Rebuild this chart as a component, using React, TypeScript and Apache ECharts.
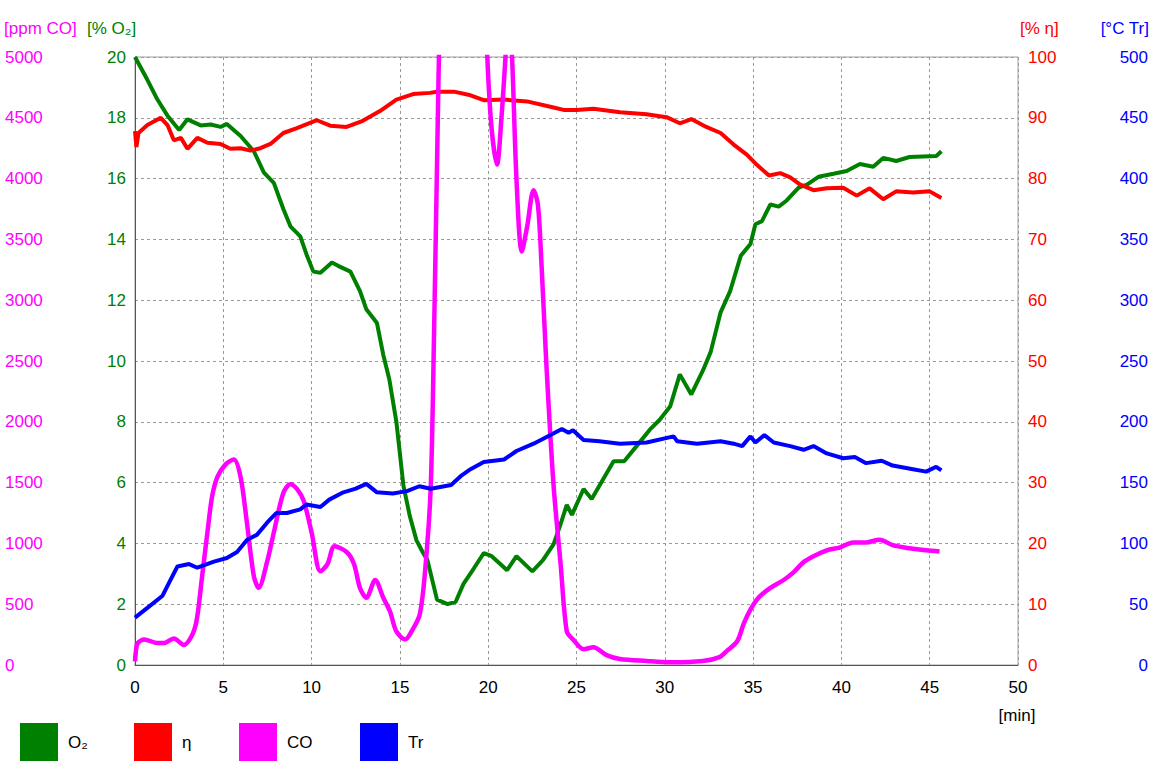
import React, { useEffect, useRef } from "react";
import * as echarts from "echarts";

// time [min], value pairs
const o2Data: number[][] = [
  [0, 20], [0.7, 19.25], [1.27, 18.6], [1.84, 18.07], [2.5, 17.6], [2.97, 17.95], [3.72, 17.75],
  [4.28, 17.78], [4.85, 17.7], [5.2, 17.8], [5.98, 17.4], [6.73, 16.9], [7.3, 16.2], [7.86, 15.86],
  [8.4, 15.0], [8.8, 14.43], [9.36, 14.1], [9.74, 13.46], [10.1, 12.94], [10.5, 12.9], [11.15, 13.24],
  [11.5, 13.13], [12.2, 12.94], [12.74, 12.3], [13.1, 11.7], [13.7, 11.25], [14.06, 10.2], [14.4, 9.4],
  [14.8, 8.0], [15.2, 5.9], [15.56, 4.9], [15.94, 4.1], [16.3, 3.7], [16.56, 3.45], [17.1, 2.15],
  [17.7, 2.0], [18.16, 2.08], [18.6, 2.67], [19.2, 3.19], [19.75, 3.68], [20.2, 3.58], [21.07, 3.12],
  [21.6, 3.58], [22.5, 3.08], [23.1, 3.45], [23.7, 3.97], [24.08, 4.6], [24.45, 5.27], [24.74, 4.94],
  [25.4, 5.79], [25.86, 5.46], [26.5, 6.1], [27.1, 6.7], [27.7, 6.7], [28.4, 7.2], [29.15, 7.74],
  [29.7, 8.06], [30.3, 8.5], [30.85, 9.56], [31.5, 8.9], [32.16, 9.69], [32.6, 10.3], [33.16, 11.6],
  [33.7, 12.3], [34.3, 13.46], [34.85, 13.85], [35.13, 14.5], [35.5, 14.6], [35.98, 15.15],
  [36.45, 15.08], [36.9, 15.28], [37.58, 15.7], [38.05, 15.8], [38.7, 16.06], [39.55, 16.16],
  [40.3, 16.25], [41.05, 16.48], [41.8, 16.39], [42.37, 16.68], [43.1, 16.58], [43.86, 16.71],
  [45.37, 16.74], [45.66, 16.9],
];

const etaData: number[][] = [
  [0, 87.8], [0.08, 85.2], [0.2, 87.5], [0.7, 88.8], [1.46, 90.0], [1.84, 88.8], [2.2, 86.3],
  [2.6, 86.7], [2.97, 84.9], [3.53, 86.7], [4.1, 85.9], [4.85, 85.7], [5.4, 84.9], [5.98, 85.0],
  [6.54, 84.6], [7.1, 85.0], [7.67, 85.7], [8.4, 87.5], [9.17, 88.3], [10.3, 89.6], [11.05, 88.7],
  [11.98, 88.5], [12.9, 89.5], [13.87, 91.1], [14.8, 93.0], [15.75, 93.9], [16.7, 94.1], [17.1, 94.3],
  [18.06, 94.3], [19.0, 93.7], [19.75, 92.9], [20.88, 93.0], [22.2, 92.7], [23.7, 91.7], [24.27, 91.3],
  [25.0, 91.3], [25.96, 91.5], [27.46, 90.9], [28.97, 90.6], [30.1, 90.1], [30.85, 89.1], [31.5, 89.8],
  [32.35, 88.5], [33.16, 87.5], [33.9, 85.6], [34.66, 83.9], [35.2, 82.3], [35.9, 80.5], [36.54, 80.9],
  [37.1, 80.2], [37.67, 79.0], [38.42, 78.1], [39.17, 78.4], [40.1, 78.5], [40.87, 77.2], [41.6, 78.4],
  [42.37, 76.6], [43.1, 77.9], [44.05, 77.7], [45.0, 77.9], [45.66, 76.8],
];

const coData: number[][] = [
  [0, 30], [0.05, 110], [0.15, 180], [0.53, 210], [1.27, 180], [1.65, 180], [2.2, 218], [2.76, 165],
  [3.23, 245], [3.5, 375], [3.8, 730], [4.1, 1090], [4.36, 1380], [4.66, 1545], [5.13, 1650],
  [5.6, 1690], [5.98, 1545], [6.35, 1155], [6.73, 730], [7.0, 635], [7.5, 860], [7.86, 1090],
  [8.4, 1415], [8.8, 1487], [9.17, 1448], [9.55, 1350], [10.0, 1090], [10.5, 770], [10.9, 830],
  [11.3, 976], [12.0, 927], [12.4, 830], [12.74, 634], [13.1, 553], [13.6, 700], [14.06, 553],
  [14.44, 440], [14.8, 276], [15.3, 211], [15.66, 276], [16.13, 420], [16.46, 830], [16.75, 1480],
  [16.94, 2780], [17.1, 4100], [17.3, 5600], [17.7, 7200], [18.6, 8200], [19.5, 6800], [19.95, 5000],
  [20.2, 4400], [20.5, 4115], [20.75, 4500], [20.98, 5000], [21.15, 5400], [21.35, 5000], [21.6, 4000],
  [21.9, 3400], [22.2, 3600], [22.57, 3904], [22.8, 3800], [22.95, 3497], [23.3, 2456], [23.7, 1480],
  [24.1, 830], [24.45, 276], [24.8, 211], [25.4, 130], [25.96, 146], [26.7, 81], [27.46, 49],
  [28.97, 33], [30.3, 23], [32.16, 33], [33.1, 65], [33.5, 114], [34.1, 195], [34.47, 341],
  [34.85, 455], [35.3, 553], [35.98, 634], [36.73, 699], [37.3, 764], [37.86, 846], [38.42, 894],
  [39.17, 943], [39.9, 966], [40.67, 1008], [41.4, 1008], [42.16, 1031], [42.9, 986], [43.86, 960],
  [44.8, 943], [45.56, 934],
];

const trData: number[][] = [
  [0, 39], [0.7, 47], [1.56, 57], [1.94, 68], [2.4, 81], [3.06, 83], [3.53, 80], [4.47, 85], [5.2, 88],
  [5.78, 93], [6.35, 103], [6.9, 107], [7.48, 117], [8.0, 125], [8.6, 125], [9.36, 128], [9.7, 132],
  [10.5, 130], [11.0, 136], [11.8, 142], [12.5, 145], [13.1, 149], [13.7, 142], [14.6, 141], [15.4, 143],
  [16.1, 147], [16.75, 145], [17.9, 148], [18.5, 156], [19.0, 161], [19.75, 167], [20.9, 169],
  [21.6, 176], [22.57, 182], [23.5, 189], [24.17, 194], [24.55, 191], [24.8, 193], [25.4, 185],
  [26.3, 184], [27.46, 182], [28.97, 183], [30.5, 188], [30.7, 184], [31.82, 182], [33.16, 184],
  [33.9, 182], [34.38, 180], [34.85, 188], [35.13, 183], [35.64, 189], [36.17, 183], [37.1, 180],
  [37.86, 177], [38.42, 180], [39.17, 174], [40.1, 170], [40.76, 171], [41.4, 166], [42.28, 168],
  [42.9, 164], [44.05, 161], [44.8, 159], [45.37, 163], [45.66, 160],
];

const seriesNames = ["O\u2082", "\u03b7", "CO", "Tr"];
const seriesColors = ["#008000", "#ff0000", "#ff00ff", "#0000ff"];
const legendLeft = [20, 134, 239, 360];

const FONT = "'Liberation Sans', Arial, sans-serif";

export default function App() {
  const ref = useRef<HTMLDivElement>(null);
  useEffect(() => {
    document.body.style.margin = "0";
    if (!ref.current) return;
    const chart = echarts.init(ref.current, undefined, { renderer: "svg" });
    const grid = "#9a9a9a";
    const plain = (v: number) => String(v);
    const option: any = {
      animation: false,
      textStyle: { fontFamily: FONT },
      grid: { left: 135, right: 134, top: 57, bottom: 103, show: true, borderColor: "#a0a0a0", borderWidth: 1 },
      xAxis: {
        type: "value", min: 0, max: 50, interval: 5,
        axisLine: { show: true, onZero: false, lineStyle: { color: "#555", width: 1 } },
        axisTick: { show: false },
        axisLabel: { color: "#000", fontSize: 17, margin: 14, fontFamily: FONT, formatter: plain },
        splitLine: { show: true, lineStyle: { color: grid, type: [3, 3], width: 1 } },
      },
      yAxis: [
        {
          type: "value", position: "left", offset: 122, min: 0, max: 5000, interval: 500,
          axisLine: { show: false }, axisTick: { show: false }, splitLine: { show: false },
          axisLabel: { color: "#ff00ff", fontSize: 17, align: "left", margin: 8, fontFamily: FONT, formatter: plain },
        },
        {
          type: "value", position: "left", offset: 0, min: 0, max: 20, interval: 2,
          axisLine: { show: true, lineStyle: { color: "#555", width: 1 } }, axisTick: { show: false },
          splitLine: { show: true, lineStyle: { color: grid, type: [3, 3], width: 1 } },
          axisLabel: { color: "#008000", fontSize: 17, margin: 9, fontFamily: FONT, formatter: plain },
        },
        {
          type: "value", position: "right", offset: 0, min: 0, max: 100, interval: 10,
          axisLine: { show: false }, axisTick: { show: false }, splitLine: { show: false },
          axisLabel: { color: "#ff0000", fontSize: 17, margin: 10, fontFamily: FONT, formatter: plain },
        },
        {
          type: "value", position: "right", offset: 122, min: 0, max: 500, interval: 50,
          axisLine: { show: false }, axisTick: { show: false }, splitLine: { show: false },
          axisLabel: { color: "#0000ff", fontSize: 17, align: "right", margin: 8, fontFamily: FONT, formatter: plain },
        },
      ],
      legend: seriesNames.map((n, i) => ({
        data: [n], left: legendLeft[i], top: 723, padding: 0, itemWidth: 38, itemHeight: 38, icon: "rect",
        itemStyle: { borderWidth: 0 },
        textStyle: { color: "#000", fontSize: 17, fontFamily: FONT, padding: [0, 0, 0, 5] },
        selectedMode: false,
      })),
      series: [
        { name: seriesNames[0], data: o2Data, yAxisIndex: 1 },
        { name: seriesNames[1], data: etaData, yAxisIndex: 2 },
        { name: seriesNames[2], data: coData, yAxisIndex: 0, smooth: 0.3 },
        { name: seriesNames[3], data: trData, yAxisIndex: 3 },
      ].map((s: any, i) => ({
        type: "line", showSymbol: false, symbol: "none", clip: true,
        color: seriesColors[i],
        itemStyle: { color: seriesColors[i] },
        lineStyle: { color: seriesColors[i], width: i === 2 ? 4.5 : 4 },
        ...s,
      })),
      graphic: [
        { type: "text", x: 4, y: 28, style: { text: "[ppm CO]", fill: "#ff00ff", font: `17px ${FONT}`, textVerticalAlign: "middle" } },
        { type: "text", x: 87, y: 28, style: { text: "[% O\u2082]", fill: "#008000", font: `17px ${FONT}`, textVerticalAlign: "middle" } },
        { type: "text", x: 1020, y: 28, style: { text: "[% \u03b7]", fill: "#ff0000", font: `17px ${FONT}`, textVerticalAlign: "middle" } },
        { type: "text", x: 1149, y: 28, style: { text: "[\u00b0C Tr]", fill: "#0000ff", font: `17px ${FONT}`, textAlign: "right", textVerticalAlign: "middle" } },
        { type: "text", x: 1017, y: 715, style: { text: "[min]", fill: "#000", font: `17px ${FONT}`, textAlign: "center", textVerticalAlign: "middle" } },
      ],
    };
    chart.setOption(option);
    return () => chart.dispose();
  }, []);
  return <div ref={ref} style={{ width: 1152, height: 768 }} />;
}
